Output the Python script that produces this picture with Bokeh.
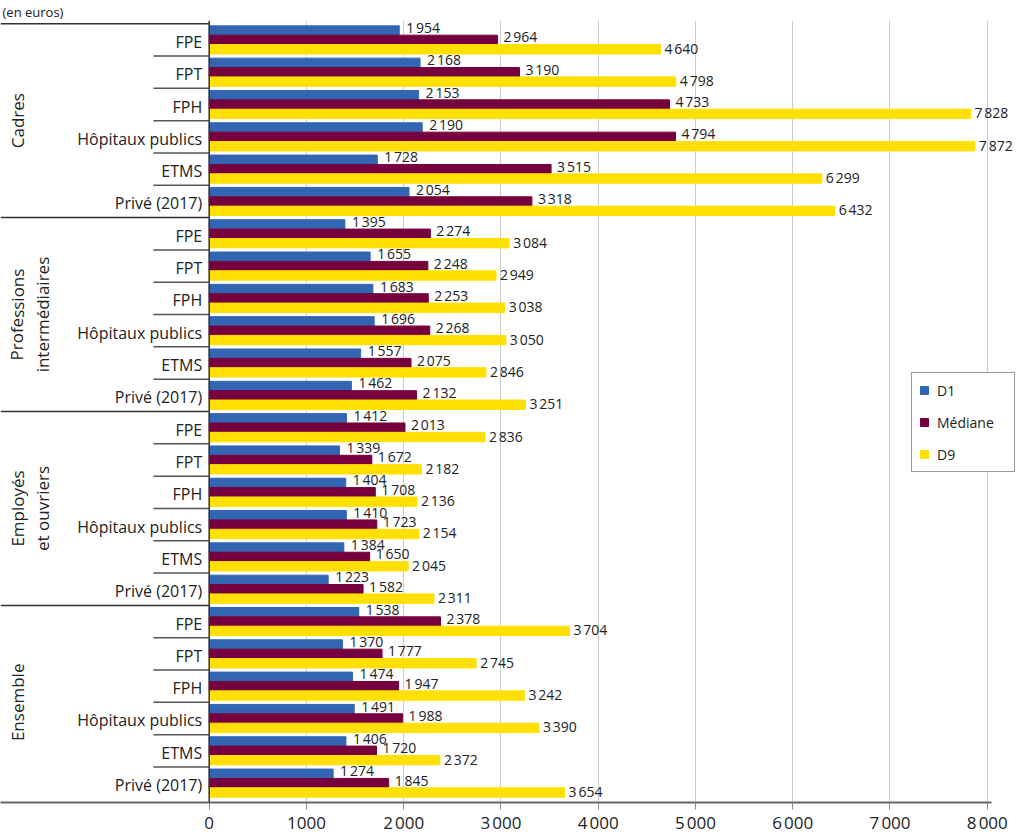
from bokeh.plotting import figure
from bokeh.models import (ColumnDataSource, FactorRange, Range1d, FixedTicker, Span,
                          Legend, LegendItem, CustomJSTickFormatter)
from bokeh.transform import dodge
from bokeh.core.properties import value
from bokeh.embed import file_html
from bokeh.resources import INLINE

# ---------------- data ----------------
GROUPS = ["Cadres", "Professions\nintermédiaires", "Employés\net ouvriers", "Ensemble"]
GROUP_KEYS = ["Cadres", "Professions intermédiaires", "Employés et ouvriers", "Ensemble"]
SUBCATS = ["FPE", "FPT", "FPH", "Hôpitaux publics", "ETMS", "Privé (2017)"]
SERIES = ["D1", "Médiane", "D9"]

D1 = [1954, 2168, 2153, 2190, 1728, 2054,
      1395, 1655, 1683, 1696, 1557, 1462,
      1412, 1339, 1404, 1410, 1384, 1223,
      1538, 1370, 1474, 1491, 1406, 1274]
MEDIANE = [2964, 3190, 4733, 4794, 3515, 3318,
           2274, 2248, 2253, 2268, 2075, 2132,
           2013, 1672, 1708, 1723, 1650, 1582,
           2378, 1777, 1947, 1988, 1720, 1845]
D9 = [4640, 4798, 7828, 7872, 6299, 6432,
      3084, 2949, 3038, 3050, 2846, 3251,
      2836, 2182, 2136, 2154, 2045, 2311,
      3704, 2745, 3242, 3390, 2372, 3654]

TICKS = [0, 1000, 2000, 3000, 4000, 5000, 6000, 7000, 8000]
TICK_LABELS = ["0", "1000", "2\u202f000", "3\u202f000", "4\u202f000", "5\u202f000",
               "6\u202f000", "7\u202f000", "8\u202f000"]

COLORS = ["#3366B2", "#76003E", "#FFE000"]
FONT = "Open Sans"

# ---------------- layout constants ----------------
X_START = -2146
X_END = 8311
AXIS_END = 8044
SUB_SEP_X = -573

factors = [(g, s) for g in GROUP_KEYS for s in SUBCATS]

def fmt(v):
    return f"{v:,}".replace(",", "\u202f")

src = ColumnDataSource(dict(
    y=factors,
    d1=D1, med=MEDIANE, d9=D9,
    d1_t=[fmt(v) for v in D1], med_t=[fmt(v) for v in MEDIANE], d9_t=[fmt(v) for v in D9],
    sub=[f[1] for f in factors],
))

yr = FactorRange(*list(reversed(factors)), group_padding=0, factor_padding=0,
                 range_padding=0.1, range_padding_units="absolute")

p = figure(width=1017, height=836, y_range=yr, x_range=Range1d(X_START, X_END),
           output_backend="svg", toolbar_location=None, y_axis_location=None,
           min_border_left=0, min_border_right=0, min_border_bottom=0,
           min_border_top=0, outline_line_color=None,
           title="(en euros)")
p.title.text_font = FONT
p.title.text_font_size = "13px"
p.title.text_font_style = "normal"
p.title.text_color = "#222222"
p.title.standoff = 0
p.title.offset = 2

p.ygrid.visible = False
p.xgrid.ticker = FixedTicker(ticks=TICKS[1:])
p.xgrid.grid_line_color = "#CCCCCC"
p.xgrid.grid_line_width = 1

ax = p.xaxis[0]
ax.ticker = FixedTicker(ticks=TICKS)
ax.bounds = (X_START, AXIS_END)
ax.formatter = CustomJSTickFormatter(
    args=dict(tvals=TICKS, tlabels=TICK_LABELS),
    code="const i = tvals.indexOf(tick); return i >= 0 ? tlabels[i] : '';")
ax.axis_line_color = "#666666"
ax.axis_line_width = 2
ax.major_tick_in = 0
ax.major_tick_out = 7
ax.major_tick_line_color = "#888888"
ax.minor_tick_line_color = None
ax.major_label_text_font = FONT
ax.major_label_text_font_size = "17px"
ax.major_label_text_color = "#222222"
ax.major_label_standoff = 1

H = 0.29
r1 = p.hbar(y=dodge("y", H, range=yr), right="d1", left=0, height=H, color=COLORS[0], source=src)
r2 = p.hbar(y=dodge("y", 0, range=yr), right="med", left=0, height=H, color=COLORS[1], source=src)
r3 = p.hbar(y=dodge("y", -H, range=yr), right="d9", left=0, height=H, color=COLORS[2], source=src)

lab_kw = dict(text_font=value(FONT), text_font_size="14px", text_color="#222222",
              text_baseline="middle", text_align="left", source=src)
p.text(x="d1", y=dodge("y", H, range=yr), text="d1_t", x_offset=7, y_offset=-3, **lab_kw)
p.text(x="med", y=dodge("y", 0, range=yr), text="med_t", x_offset=6, y_offset=-3, **lab_kw)
p.text(x="d9", y=dodge("y", -H, range=yr), text="d9_t", x_offset=4, y_offset=-1, **lab_kw)

# category labels
p.text(x=0, y="y", text="sub", x_offset=-7, y_offset=2, text_align="right",
       text_baseline="middle", text_font=value(FONT), text_font_size="16px",
       text_color="#222222", source=src)

# group labels
gsrc = ColumnDataSource(dict(y=GROUP_KEYS, t=GROUPS, x=[X_START] * len(GROUPS)))
p.text(x="x", y="y", text="t", x_offset=5, angle=1.5707963, text_align="center",
       text_baseline="top", text_font=value(FONT), text_font_size="17px",
       text_line_height=1.1, text_color="#222222", source=gsrc)

# separators
group_tops = [(g, SUBCATS[0]) for g in GROUP_KEYS]
sub_tops = [(g, s) for g in GROUP_KEYS for s in SUBCATS[1:]]
gs = ColumnDataSource(dict(y=group_tops, x0=[X_START] * len(group_tops), x1=[0] * len(group_tops)))
ss = ColumnDataSource(dict(y=sub_tops, x0=[SUB_SEP_X] * len(sub_tops), x1=[0] * len(sub_tops)))
p.segment(x0="x0", x1="x1", y0=dodge("y", 0.5, range=yr), y1=dodge("y", 0.5, range=yr),
          line_color="#333333", line_width=1.5, source=gs)
p.segment(x0="x0", x1="x1", y0=dodge("y", 0.5, range=yr), y1=dodge("y", 0.5, range=yr),
          line_color="#555555", line_width=1.5, source=ss)

p.add_layout(Span(location=0, dimension="height", line_color="#333333", line_width=1.5))

legend = Legend(items=[LegendItem(label=SERIES[0], renderers=[r1]),
                       LegendItem(label=SERIES[1], renderers=[r2]),
                       LegendItem(label=SERIES[2], renderers=[r3])],
                location=(911, 330), orientation="vertical",
                glyph_width=10, glyph_height=10, label_height=20, spacing=12,
                padding=7, margin=0, label_standoff=8, label_width=70,
                label_text_font=FONT, label_text_font_size="14px",
                label_text_color="#222222",
                border_line_color="#333333", border_line_width=1.5,
                background_fill_color="white", background_fill_alpha=1)
p.add_layout(legend)

open("out.html", "w").write(file_html(p, INLINE))
